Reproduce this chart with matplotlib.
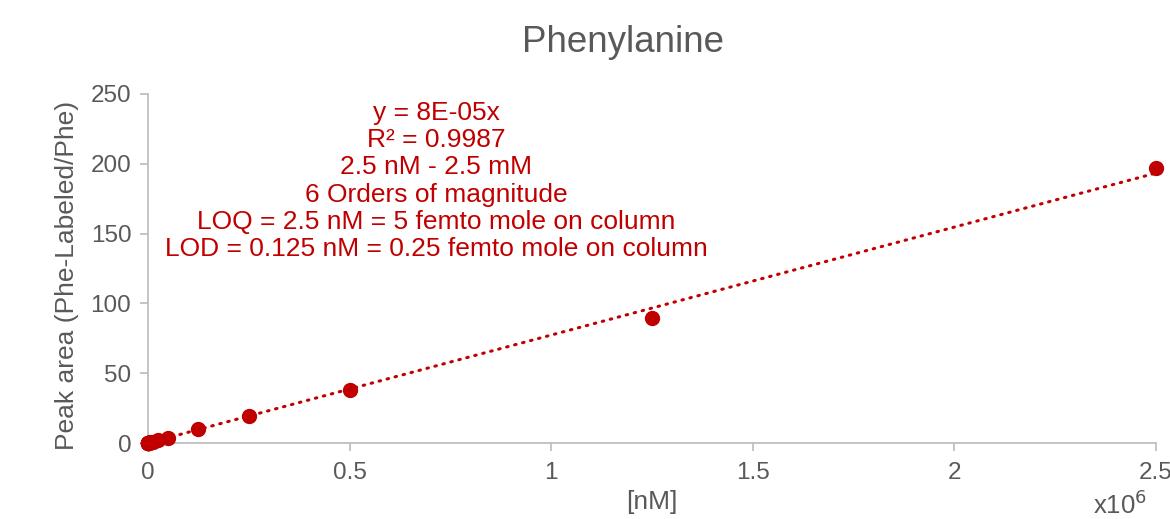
import matplotlib
matplotlib.use("Agg")
import matplotlib.pyplot as plt
from matplotlib.ticker import FuncFormatter
import numpy as np

plt.rcParams['font.family'] = ['Liberation Sans', 'DejaVu Sans']

conc_nM = [2.5, 5, 12.5, 25, 50, 125, 250, 500, 1250, 2500, 5000, 12500, 25000,
           50000, 125000, 250000, 500000, 1250000, 2500000]
peak_ratio = [0.0002, 0.0004, 0.001, 0.002, 0.004, 0.01, 0.02, 0.04, 0.1, 0.2, 0.4,
              1.0, 2.0, 3.8, 10.2, 19.3, 38.2, 89.5, 197.0]
x_ticks = [0, 500000, 1000000, 1500000, 2000000, 2500000]
y_ticks = [0, 50, 100, 150, 200, 250]
annotation_lines = ["y = 8E-05x", "R\u00b2 = 0.9987", "2.5 nM - 2.5 mM",
                    "6 Orders of magnitude",
                    "LOQ = 2.5 nM = 5 femto mole on column",
                    "LOD = 0.125 nM = 0.25 femto mole on column"]

red = '#C00000'
gray = '#595959'
spine = '#BFBFBF'

fig = plt.figure(figsize=(11.7, 5.19), dpi=100)
ax = fig.add_axes([0.1265, 0.1464, 0.8615, 0.6725])

x = np.array(conc_nM)
y = np.array(peak_ratio)
slope = np.sum(x * y) / np.sum(x * x)
xl = np.array([0, max(conc_nM)])
ax.plot(xl, slope * xl, linestyle=(0, (0.5, 2.2)), color=red, lw=2.2,
        dash_capstyle='round', zorder=2)
ax.plot(x, y, 'o', color=red, markersize=10, zorder=3, clip_on=False)

ax.set_xlim(0, 2500000)
ax.set_ylim(0, 250)
ax.set_xticks(x_ticks)
ax.set_yticks(y_ticks)
ax.xaxis.set_major_formatter(FuncFormatter(lambda v, p: f"{v/1e6:g}"))
for s in ['top', 'right']:
    ax.spines[s].set_visible(False)
for s in ['left', 'bottom']:
    ax.spines[s].set_color(spine)
    ax.spines[s].set_linewidth(1.3)
ax.tick_params(axis='both', colors=spine, labelcolor=gray, labelsize=17.5,
               length=6, width=1.3, direction='out')
ax.tick_params(axis='x', pad=8)
ax.tick_params(axis='y', pad=6)

ax.set_ylabel("Peak area (Phe-Labeled/Phe)", fontsize=19, color=gray, labelpad=8)
ax.yaxis.label.set_y(0.48)
ax.set_xlabel("[nM]", fontsize=19, color=gray, labelpad=4)
fig.text(0.5325, 0.918, "Phenylanine", fontsize=26.5, color=gray, ha='center', va='center')
fig.text(0.957, 0.0, r"x10$^{6}$", fontsize=18.5, color=gray, ha='center', va='bottom')

ax.text(0.2857, 0.98, "\n".join(annotation_lines), transform=ax.transAxes,
        ha='center', va='top', fontsize=19, color=red, linespacing=1.17)

fig.savefig("out.png", dpi=100)
